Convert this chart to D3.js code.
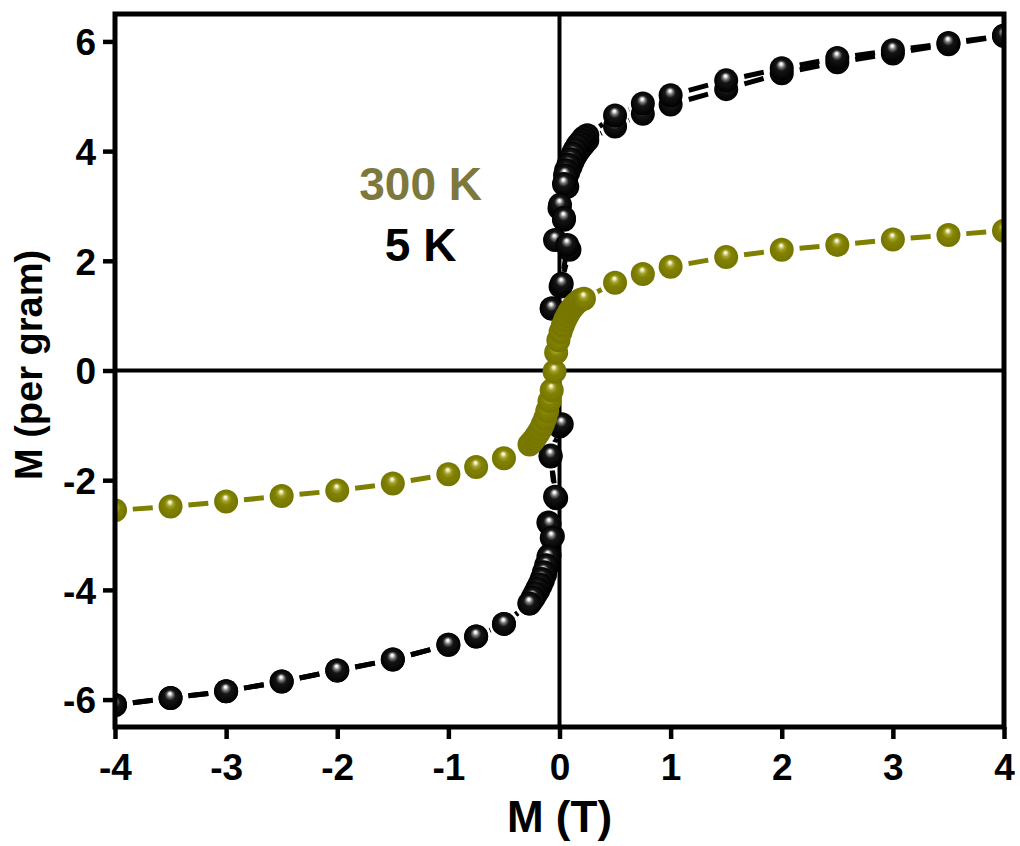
<!DOCTYPE html>
<meta charset="utf-8">
<style>
body { margin: 0; background: #fff; }
text { font-family: "Liberation Sans", Arial, sans-serif; font-weight: bold; }
.tick text { font-size: 37px; }
</style>
<svg width="1020" height="846"></svg>
<script src="https://d3js.org/d3.v7.min.js"></script>
<script>

// 5 K loop, branch measured with lower moment on the positive side
var lowX = [-4, -3.5, -3, -2.5, -2, -1.5, -1, -0.75, -0.5, -0.27, -0.25, -0.23, -0.21, -0.19, -0.17, -0.15, -0.13, -0.11,
  -0.09, -0.06, -0.1, -0.03, -0.08, 0.0, -0.07, 0.01, 0.09, 0.04, 0.0, 0.07, 0.06, 0.08, 0.1, 0.12, 0.14, 0.16, 0.18,
  0.2, 0.22, 0.25, 0.5, 0.75, 1, 1.5, 2, 2.5, 3, 3.5, 4];
var lowY = [-6.1, -5.97, -5.85, -5.67, -5.47, -5.27, -5.0, -4.85, -4.62, -4.25, -4.2, -4.14, -4.07, -4.0, -3.92, -3.83, -3.72, -3.57,
  -3.37, -3.02, -2.77, -2.33, -1.57, -1.02, 1.13, 1.53, 2.2, 2.75, 2.96, 3.35, 3.5, 3.62, 3.72, 3.82, 3.9, 3.97, 4.03,
  4.08, 4.13, 4.2, 4.45, 4.68, 4.85, 5.13, 5.42, 5.62, 5.78, 5.95, 6.1];

// 5 K loop, branch with higher moment on the positive side
var highX = [4, 3.5, 3, 2.5, 2, 1.5, 1, 0.75, 0.5, 0.25, 0.22, 0.2, 0.18, 0.16, 0.14, 0.12, 0.1, 0.08, 0.06, 0.05, 0.04,
  0.005, 0.04, -0.04, 0.07, 0.02, -0.07, 0.02, -0.08, -0.04, -0.09, -0.07, -0.1, -0.12, -0.14, -0.16, -0.18, -0.2,
  -0.22, -0.24, -0.27, -0.5, -0.75, -1, -1.5, -2, -2.5, -3, -3.5, -4];
var highY = [6.11, 5.97, 5.84, 5.7, 5.51, 5.29, 5.02, 4.87, 4.65, 4.29, 4.25, 4.2, 4.15, 4.1, 4.03, 3.95, 3.85, 3.75, 3.65, 3.56, 3.4,
  3.02, 2.78, 2.38, 2.29, 1.58, 1.13, -0.98, -1.55, -2.3, -2.8, -3.05, -3.4, -3.55, -3.68, -3.8, -3.9, -3.98,
  -4.06, -4.14, -4.25, -4.62, -4.85, -5.0, -5.27, -5.47, -5.67, -5.85, -5.97, -6.1];

// 300 K curve
var warmX = [-4, -3.5, -3, -2.5, -2, -1.5, -1, -0.75, -0.5, -0.27, -0.25, -0.23, -0.21, -0.19, -0.17, -0.15, -0.13, -0.11,
  -0.09, -0.07, -0.045, -0.03, -0.01, 0.01, 0.03, 0.05, 0.07, 0.09, 0.11, 0.13, 0.15, 0.17, 0.19, 0.22,
  0.5, 0.75, 1, 1.5, 2, 2.5, 3, 3.5, 4];
var warmY = [-2.55, -2.48, -2.39, -2.29, -2.19, -2.06, -1.89, -1.76, -1.6, -1.35, -1.31, -1.26, -1.2, -1.14, -1.07, -0.98, -0.88, -0.74,
  -0.56, -0.36, -0.02, 0.33, 0.55, 0.7, 0.82, 0.92, 1.0, 1.07, 1.13, 1.18, 1.22, 1.26, 1.29, 1.31,
  1.6, 1.76, 1.89, 2.07, 2.2, 2.29, 2.39, 2.47, 2.55];

var xTicks = [-4, -3, -2, -1, 0, 1, 2, 3, 4];
var yTicks = [-6, -4, -2, 0, 2, 4, 6];

var svg = d3.select("svg"),
    margin = {top: 14, right: 16, bottom: 119, left: 115},
    width = +svg.attr("width") - margin.left - margin.right,
    height = +svg.attr("height") - margin.top - margin.bottom;

var x = d3.scaleLinear().domain([-4, 4]).range([0, width]);
var y = d3.scaleLinear().domain([-6.5, 6.5]).range([height, 0]);

var defs = svg.append("defs");

defs.append("clipPath").attr("id", "plot")
  .append("rect").attr("width", width).attr("height", height);

function sphere(id, stops) {
  var g = defs.append("radialGradient").attr("id", id)
      .attr("cx", 0.5).attr("cy", 0.5).attr("r", 0.5)
      .attr("fx", 0.47).attr("fy", 0.3);
  g.selectAll("stop").data(stops).enter().append("stop")
      .attr("offset", function(d) { return d[0]; })
      .attr("stop-color", function(d) { return d[1]; });
}

sphere("ballBlack", [[0, "#ffffff"], [0.1, "#eeeeee"], [0.25, "#777"], [0.45, "#151515"], [1, "#000"]]);
sphere("ballOlive", [[0, "#fffff2"], [0.1, "#f0efc0"], [0.28, "#a3a12e"], [0.5, "#828200"], [1, "#747400"]]);

var g = svg.append("g").attr("transform", "translate(" + margin.left + "," + margin.top + ")");

// plain hyphen for negatives, like the original
var fmt = function(d) { return String(d); };

var xAxis = g.append("g")
    .attr("transform", "translate(0," + height + ")")
    .call(d3.axisBottom(x).tickValues(xTicks).tickSize(12).tickPadding(14).tickFormat(fmt));

var yAxis = g.append("g")
    .call(d3.axisLeft(y).tickValues(yTicks).tickSize(12).tickPadding(7).tickFormat(fmt));

[xAxis, yAxis].forEach(function(a) {
  a.select(".domain").remove();
  a.selectAll(".tick line").attr("stroke", "#000").attr("stroke-width", 4.5);
  a.selectAll(".tick text").attr("fill", "#000");
});
yAxis.selectAll(".tick text").attr("dy", "0.36em");
xAxis.selectAll(".tick text").attr("dy", "0.72em");

// zero lines
g.append("line")
    .attr("x1", x(0)).attr("x2", x(0)).attr("y1", 0).attr("y2", height)
    .attr("stroke", "#000").attr("stroke-width", 4);
g.append("line")
    .attr("x1", 0).attr("x2", width).attr("y1", y(0)).attr("y2", y(0))
    .attr("stroke", "#000").attr("stroke-width", 4);

var plot = g.append("g").attr("clip-path", "url(#plot)");

// one dash centred between each pair of neighbouring points
function segments(pts) {
  var segs = [];
  for (var i = 1; i < pts.length; i++) {
    var a = pts[i - 1], b = pts[i];
    segs.push(a[0] <= b[0] ? [a, b] : [b, a]);
  }
  return segs;
}

function series(xs, ys, color, ball) {
  var pts = d3.zip(xs, ys);
  plot.append("g").selectAll("line")
      .data(segments(pts))
      .enter().append("line")
      .attr("x1", function(d) { return x(d[0][0]); })
      .attr("y1", function(d) { return y(d[0][1]); })
      .attr("x2", function(d) { return x(d[1][0]); })
      .attr("y2", function(d) { return y(d[1][1]); })
      .attr("stroke", color)
      .attr("stroke-width", 5)
      .attr("stroke-dasharray", function(d) {
        var dx = x(d[1][0]) - x(d[0][0]), dy = y(d[1][1]) - y(d[0][1]);
        var L = Math.sqrt(dx * dx + dy * dy), dash = Math.min(20, Math.max(L - 30, 0));
        return "0," + ((L - dash) / 2) + "," + dash + "," + L;
      });
  plot.append("g").selectAll("circle")
      .data(pts)
      .enter().append("circle")
      .attr("cx", function(d) { return x(d[0]); })
      .attr("cy", function(d) { return y(d[1]); })
      .attr("r", 12)
      .attr("fill", "url(#" + ball + ")");
}

series(lowX, lowY, "#000", "ballBlack");
series(highX, highY, "#000", "ballBlack");
series(warmX, warmY, "#808000", "ballOlive");

// frame
g.append("rect")
    .attr("width", width).attr("height", height)
    .attr("fill", "none").attr("stroke", "#000").attr("stroke-width", 5);

// labels
g.append("text")
    .attr("x", x(-1.25)).attr("y", y(3.1))
    .attr("text-anchor", "middle")
    .attr("fill", "#7d793e")
    .style("font-size", "46px")
    .text("300 K");
g.append("text")
    .attr("x", x(-1.25)).attr("y", y(2.0))
    .attr("text-anchor", "middle")
    .attr("fill", "#000")
    .style("font-size", "46px")
    .text("5 K");

svg.append("text")
    .attr("x", margin.left + x(0)).attr("y", 832)
    .attr("text-anchor", "middle")
    .style("font-size", "44px")
    .text("M (T)");

svg.append("text")
    .attr("transform", "translate(42,365) rotate(-90)")
    .attr("text-anchor", "middle")
    .style("font-size", "38px")
    .text("M (per gram)");

</script>
